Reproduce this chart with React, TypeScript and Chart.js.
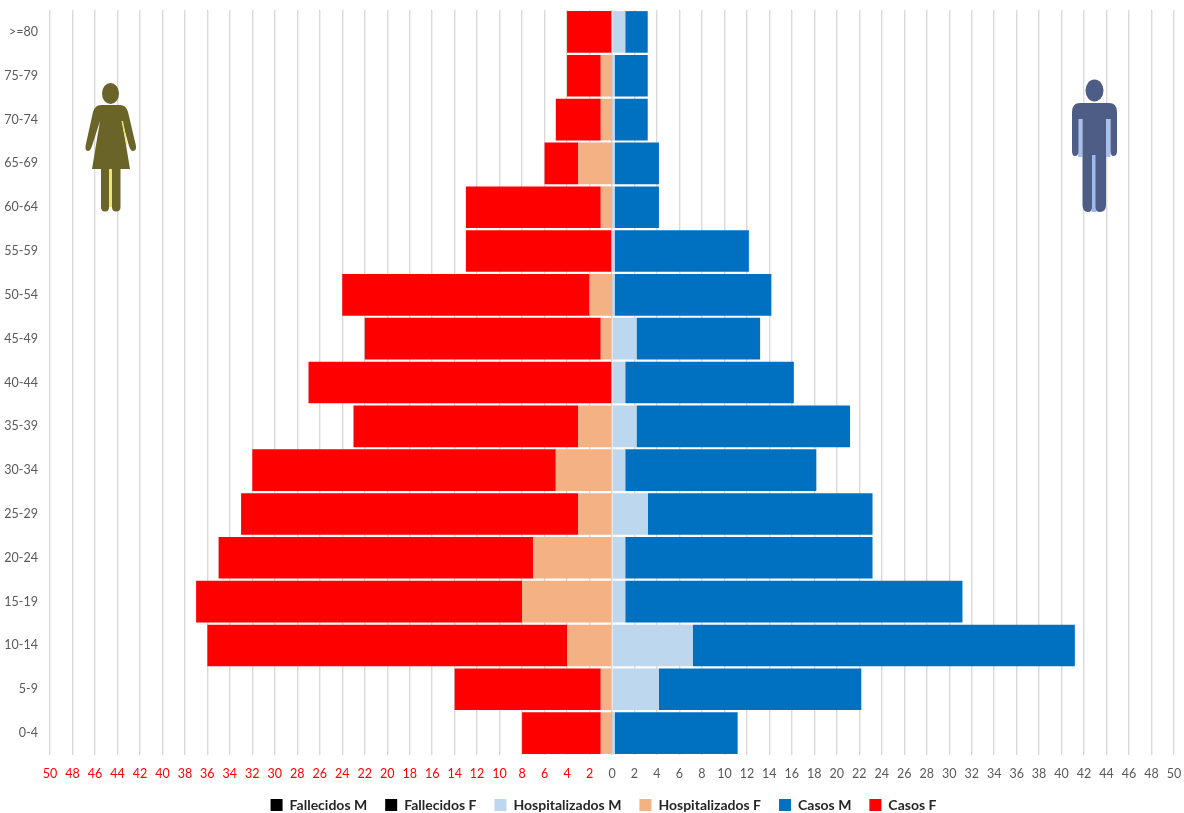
import React, { useEffect, useRef } from "react";
import { Chart, registerables } from "chart.js";

Chart.register(...registerables);

const ageGroups = [">=80","75-79","70-74","65-69","60-64","55-59","50-54","45-49","40-44","35-39","30-34","25-29","20-24","15-19","10-14","5-9","0-4"];
const fallecidosM = [0,0,0,0,0,0,0,0,0,0,0,0,0,0,0,0,0];
const fallecidosF = [0,0,0,0,0,0,0,0,0,0,0,0,0,0,0,0,0];
const hospitalizadosM = [1,0,0,0,0,0,0,2,1,2,1,3,1,1,7,4,0];
const hospitalizadosF = [0,-1,-1,-3,-1,0,-2,-1,0,-3,-5,-3,-7,-8,-4,-1,-1];
const casosM = [2,3,3,4,4,12,14,11,15,19,17,20,22,30,34,18,11];
const casosF = [-4,-3,-4,-3,-12,-13,-22,-21,-27,-20,-27,-30,-28,-29,-32,-13,-7];

const FONT = "Lato, 'Liberation Sans', sans-serif";

const shiftLegend = {
  id: "shiftLegend",
  afterLayout(chart: any) {
    if (chart.legend) {
      chart.legend.left += 16.5;
      chart.legend.right += 16.5;
    }
  },
};

// The male half of the pyramid sits slightly right of the zero line in the original.
const MALE_OFFSET = 2;
const nudgeMaleBars = {
  id: "nudgeMaleBars",
  afterDatasetsUpdate(chart: any) {
    const hospM = chart.getDatasetMeta(2).data;
    const hospF = chart.getDatasetMeta(3).data;
    const casM = chart.getDatasetMeta(4).data;
    hospM.forEach((el: any) => { el.x += MALE_OFFSET; });
    casM.forEach((el: any) => { el.x += MALE_OFFSET; el.base += MALE_OFFSET; });
    hospF.forEach((el: any, i: number) => {
      if (hospitalizadosM[i] === 0 && hospitalizadosF[i] !== 0) el.base += MALE_OFFSET;
    });
  },
};

export default function App() {
  const ref = useRef<HTMLCanvasElement>(null);
  useEffect(() => {
    const bar = { barPercentage: 0.95, categoryPercentage: 1, stack: "s" };
    const chart = new Chart(ref.current!, {
      type: "bar",
      plugins: [shiftLegend, nudgeMaleBars],
      data: {
        labels: ageGroups,
        datasets: [
          { label: "Fallecidos M", data: fallecidosM, backgroundColor: "#000000", borderWidth: 0, ...bar },
          { label: "Fallecidos F", data: fallecidosF, backgroundColor: "#000000", borderWidth: 0, ...bar },
          { label: "Hospitalizados M", data: hospitalizadosM, backgroundColor: "#bdd7ee", borderWidth: 0, ...bar },
          { label: "Hospitalizados F", data: hospitalizadosF, backgroundColor: "#f4b183", borderWidth: 0, ...bar },
          { label: "Casos M", data: casosM, backgroundColor: "#0070c0", borderWidth: 0, ...bar },
          { label: "Casos F", data: casosF, backgroundColor: "#ff0000", borderWidth: 0, ...bar },
        ],
      },
      options: {
        indexAxis: "y",
        responsive: false,
        animation: false,
        layout: { padding: { left: 0, right: 10, top: 10, bottom: -9 } },
        plugins: {
          tooltip: { enabled: false },
          legend: {
            position: "bottom",
            labels: {
              boxWidth: 12,
              boxHeight: 12,
              padding: 18,
              color: "#262626",
              font: { family: FONT, size: 14, weight: "bold" },
            },
          },
        },
        scales: {
          x: {
            type: "linear",
            stacked: true,
            min: -50,
            max: 50,
            grid: { color: "#d9d9d9", lineWidth: 1.4, drawTicks: false },
            border: { display: false },
            ticks: {
              stepSize: 2,
              autoSkip: false,
              maxRotation: 0,
              padding: 11,
              font: { family: FONT, size: 12.5 },
              color: (ctx: any) => (ctx.tick.value < 0 ? "#ff0000" : "#595959"),
              callback: (v: any) => String(Math.abs(Number(v))),
            },
            afterFit: (s: any) => {
              s.height = 25;
              s.paddingLeft = 0;
              s.paddingRight = 0;
            },
          },
          y: {
            type: "category",
            stacked: true,
            grid: { display: false, drawTicks: false },
            border: { display: false },
            ticks: {
              autoSkip: false,
              padding: 12,
              color: "#595959",
              font: { family: FONT, size: 12.5 },
            },
            afterFit: (s: any) => {
              s.width = 50;
              s.paddingTop = 0;
              s.paddingBottom = 0;
            },
          },
        },
      },
    });
    return () => chart.destroy();
  }, []);

  return (
    <div style={{ position: "fixed", left: 0, top: 0, width: 1184, height: 813, background: "#fff", overflow: "hidden" }}>
      <canvas ref={ref} width={1184} height={813} style={{ display: "block" }} />
      <svg width={1184} height={813} style={{ position: "absolute", left: 0, top: 0, pointerEvents: "none" }}>
        {/* woman */}
        <g fill="#6b6429">
          <ellipse cx={110.5} cy={93.5} rx={8.5} ry={10.5} />
          <path d="M101 105 H120 Q126 105 128 112 L136 146 Q136.5 151 133 151 Q130.5 151 129 146 L122 121 L130 169 H92 L100 121 L92 146 Q90.5 151 88 151 Q85 151 85.5 146 L93 112 Q95 105 101 105 Z" />
          <path d="M101 168 H109 V207 Q109 211.5 105 211.5 Q101 211.5 101 207 Z" />
          <path d="M112 168 H120.5 V207 Q120.5 211.5 116 211.5 Q112 211.5 112 207 Z" />
        </g>
        <rect x={109} y={169} width={3} height={38} fill="#efe56a" />
        <path d="M121.5 121 L123 121 L127.5 145 L126.5 145 Z" fill="#efe56a" />
        {/* man */}
        <rect x={1078} y={119} width={4.5} height={38} fill="#a9c0ec" />
        <rect x={1106} y={119} width={4.5} height={38} fill="#a9c0ec" />
        <rect x={1091.5} y={154} width={5} height={58} fill="#9fb9ec" />
        <g fill="#4d5d86">
          <ellipse cx={1094.5} cy={90.5} rx={9} ry={11} />
          <path d="M1080 103 H1109 Q1117 103 1117 112 V151 Q1117 156 1113.5 156 Q1110.5 156 1110.5 151 V119 H1106 V205 Q1106 212 1100 212 Q1095.5 212 1095.5 207 V155 H1092 V207 Q1092 212 1088 212 Q1082.5 212 1082.5 205 V119 H1078.5 V151 Q1078.5 156 1075 156 Q1072 156 1072 151 V112 Q1072 103 1080 103 Z" />
        </g>
      </svg>
    </div>
  );
}
